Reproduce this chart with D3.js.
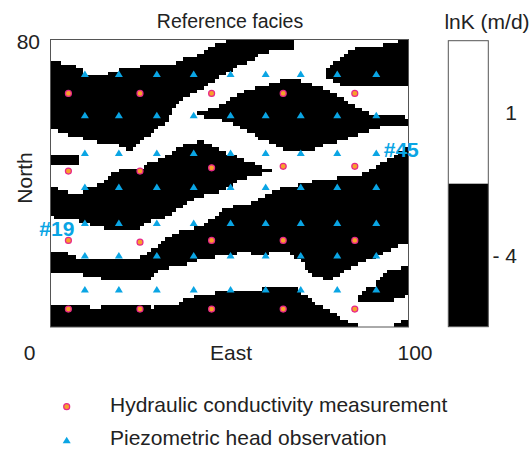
<!DOCTYPE html>
<html>
<head>
<meta charset="utf-8">
<script src="https://cdn.jsdelivr.net/npm/d3@7"></script>
<style>
  body { margin: 0; background: #fff; }
  svg { display: block; }
  text { font-family: "Liberation Sans", Arial, Helvetica, sans-serif; fill: #222; }
</style>
</head>
<body>
<svg id="chart" width="532" height="456"></svg>
<script>
// ---- facies field: 100 x 80 cells, sand (lnK = 1) background with shale (lnK = -4) bodies ----
const gridCols = 100;
const gridRows = 80;

// shale bodies, outlines in grid units (East, North)
const shaleUpperLeft = [[-0.5,74.6],[2.1,73.9],[4,73.2],[6.3,72.8],[8.1,71.9],[9.5,70.5],[10.9,70.2],[16,70.2],[16.5,71],[18.9,71.4],[21.6,71.9],[24,72.4],[26.3,72.8],[32.8,72.9],[35.1,73.7],[37.5,74.6],[41.2,75.6],[43,76.5],[44.9,77.9],[46.8,78.8],[49.1,79.5],[49.5,80.5],[67.7,80.5],[67.5,77.2],[64.5,76.9],[60.8,76.5],[58.9,75.8],[57,74.8],[55.2,73.7],[53.3,73],[50.5,71.4],[48.7,70.2],[45.9,68.6],[44,67.2],[42.1,65.8],[40.3,65.1],[38.4,64.4],[36.5,63],[34.7,61.2],[33.5,58.5],[31.9,56.6],[30,55.6],[28.2,53.8],[26.3,52.4],[24,50.5],[22.1,49.1],[21.2,49.1],[18.9,50.5],[16.1,51],[11.4,51.9],[5.8,53.3],[3,54.2],[-0.5,55]];
const shaleTopRight = [[76.6,70.6],[77.5,71.9],[80.3,74.2],[81.7,75.6],[83.1,76.5],[85.9,77.9],[88.7,78.4],[97,78.6],[97,80.5],[100.5,80.5],[100.5,67.2],[81.3,67.4],[79.4,68.1],[77,69.6]];
const shaleMidRight = [[40.5,59.2],[41.2,59.6],[43.1,59.8],[44.9,60.7],[46.8,61.6],[49.1,62.8],[51.4,64],[54.8,65.8],[59.4,67.2],[63.2,68.2],[66,68.9],[70.6,68.4],[73.4,67.5],[76.2,66.6],[79,65.2],[81.8,63.8],[84.6,61.6],[87.4,60.5],[89.6,59],[100.5,58.4],[100.5,56.2],[95.8,56.2],[91.1,55.4],[87.4,54],[84.6,53.1],[80.3,51.5],[76.2,50.5],[73.4,49.4],[68.8,48.5],[66,49.2],[63.5,50.5],[61,51.4],[58,52.6],[55.5,54.2],[52.5,56],[47.3,57.6],[43.1,58.4]];
const shaleLeftSliver = [[-0.5,48.1],[2.3,48.1],[2.3,47.7],[8.1,47.7],[8.1,45],[-0.5,45]];
const shaleMiddle = [[-0.5,38.7],[4.9,38.2],[5.4,37.3],[8.6,36.8],[9.1,37.8],[10.5,38.7],[12.3,39.2],[13.3,40],[15.5,40.5],[17,42.1],[17.9,43],[20.7,44],[25.4,44.4],[27.2,45.4],[29.1,46.3],[31,46.8],[33.5,48],[35.6,50],[38.4,51],[41.2,51.6],[44,51.4],[45.9,50],[48.7,48.7],[51.4,47.7],[54.2,46.3],[57,45.4],[59.8,44],[62.5,43.4],[64,43.6],[60,42.8],[56.6,42],[52.8,41],[51.4,40.1],[48.7,38.2],[45.9,37.3],[41.2,35.9],[38.4,35],[36.5,33.1],[34.7,32.2],[32.8,30.8],[30,30.1],[28.2,29.4],[26.3,28.5],[24.9,27.6],[24,26.6],[16.1,27.1],[11.4,28.5],[8.6,29.4],[4.9,30.3],[-0.5,30.6]];
const shaleLower = [[-0.5,21],[4.9,21],[5.4,19.7],[8.6,19.2],[14.7,18.7],[20.7,18.7],[23.5,19.2],[25.8,19.7],[27.2,20.6],[29.1,22],[31,23.9],[32.8,24.8],[34.7,26.2],[37.5,27.1],[42.1,28],[45,29.9],[47.7,32.2],[51.4,33.6],[56.1,34.5],[59.8,36.4],[62.6,38.2],[65.4,38.7],[67.5,39.2],[70,39.8],[74,40.8],[80,41.5],[87,42.5],[90,44],[95,47],[100.5,50.5],[100.5,23.5],[97.9,23.2],[97.1,22],[95.2,21.5],[93.3,20.6],[88.7,18.7],[86.8,17.8],[85,16.9],[83.1,16],[81.2,14.6],[79.4,14.1],[77.5,12.7],[76.6,13.2],[73.8,14.1],[71.9,15.5],[71,16.8],[70.1,18.2],[68.2,19.2],[66.3,21.1],[62.6,21.1],[59.8,20.1],[56.1,20.1],[55.2,21.1],[52.8,21.1],[51.4,20.1],[46.8,19.7],[42.1,18.7],[37.5,17.4],[32.8,16.4],[31,16],[29.1,14.6],[27.2,13.2],[16.1,13.2],[8.6,14.6],[-0.5,15]];
const shaleBottom = [[-0.5,6.2],[11.4,6.2],[11.4,5.3],[14.2,5.3],[14.2,5.9],[28.2,5.9],[28.2,5],[29.1,5],[29.1,5.9],[32.8,5.6],[37,6.7],[37.5,8.1],[42.1,9],[46.3,9.5],[56.1,9.7],[59.8,10.9],[63.1,10.9],[66.3,11.1],[69.1,10.4],[71.9,8.3],[73.8,6.7],[76.6,5.3],[79.4,3.9],[81.2,2.2],[84,1.2],[86.4,0.9],[86.4,-0.5],[-0.5,-0.5]];
const shaleRightLens = [[86.4,9.4],[87.8,10.4],[90.6,11.3],[92.4,14.1],[94.3,15.5],[97.1,16.4],[100.5,16.9],[100.5,9],[97.1,7.6],[92.4,7.1],[86.4,7.1]];
const shaleCorner = [[95.8,-0.5],[96.5,1],[98.5,1.8],[100.5,2],[100.5,-0.5]];

// piezometric head observation grid (numbered row by row from the south-west)
const headObsX = [9.6, 19.1, 29.7, 40, 50.3, 60.1, 69.9, 80.1, 91];
const headObsY = [10.5, 20, 29, 39, 48.5, 59, 70.5];
// highlighted observation wells
const wellLabels = ["#19", "#45"];
const wellNumbers = [19, 45];

// hydraulic conductivity measurements
const condX = [5, 25, 45, 65, 85, 5, 25, 45, 65, 85, 5, 25, 45, 65, 85, 5, 25, 45, 65, 85];
const condY = [5, 5, 5, 5, 5, 24.1, 23.6, 24.1, 24.1, 24.1, 43.4, 43.4, 44.3, 44.7, 44.7, 65, 65, 65, 65, 65];

// axis and colour bar text
const eastTicks = ["0", "100"];
const northTicks = ["80"];
const lnKClasses = ["1", "- 4"];
const lnKColours = ["#ffffff", "#000000"];
const legendLabels = ["Hydraulic conductivity measurement", "Piezometric head observation"];

// ---- layout ----
const svg = d3.select("#chart");
const plot = { left: 50.5, right: 408.5, top: 39.5, bottom: 327 };
const x = d3.scaleLinear().domain([0, gridCols]).range([plot.left, plot.right]);
const y = d3.scaleLinear().domain([0, gridRows]).range([plot.bottom, plot.top]);

const blue = "#0aa5e4";
const orange = "#f7a12a";
const magenta = "#e8268a";
const circleR = 3.0;

// ---- rasterise the shale bodies onto the grid, merged into runs per row ----
const shaleBodies = [shaleUpperLeft, shaleTopRight, shaleMidRight, shaleLeftSliver,
                     shaleMiddle, shaleLower, shaleBottom, shaleRightLens, shaleCorner];
const runs = [];
for (let j = 0; j < gridRows; j++) {
  let start = null;
  for (let i = 0; i <= gridCols; i++) {
    const centre = [i + 0.5, j + 0.5];
    const shale = i < gridCols && shaleBodies.some(p => d3.polygonContains(p, centre));
    if (shale && start === null) start = i;
    if (!shale && start !== null) { runs.push({ row: j, c0: start, c1: i }); start = null; }
  }
}

svg.append("rect")
  .attr("x", x(0)).attr("y", y(gridRows))
  .attr("width", x(gridCols) - x(0)).attr("height", y(0) - y(gridRows))
  .attr("fill", lnKColours[0]);

svg.append("g").attr("shape-rendering", "crispEdges")
  .selectAll("rect").data(runs).join("rect")
  .attr("x", d => x(d.c0))
  .attr("width", d => x(d.c1) - x(d.c0))
  .attr("y", d => y(d.row + 1))
  .attr("height", d => y(d.row) - y(d.row + 1))
  .attr("fill", lnKColours[1]);

svg.append("rect")
  .attr("x", x(0)).attr("y", y(gridRows))
  .attr("width", x(gridCols) - x(0)).attr("height", y(0) - y(gridRows))
  .attr("fill", "none").attr("stroke", "#555").attr("stroke-width", 1);

// ---- observation points ----
const triPath = (w, h) => `M0,${-h / 2}L${w / 2},${h / 2}L${-w / 2},${h / 2}Z`;
const heads = [];
headObsY.forEach((yy, r) => headObsX.forEach((xx, c) => heads.push({ n: r * headObsX.length + c + 1, x: xx, y: yy })));

svg.append("g").selectAll("path").data(heads).join("path")
  .attr("d", triPath(8, 6.5))
  .attr("transform", d => `translate(${x(d.x)},${y(d.y)})`)
  .attr("fill", blue);

svg.append("g").selectAll("circle").data(condX.map((v, i) => ({ x: v, y: condY[i] }))).join("circle")
  .attr("cx", d => x(d.x)).attr("cy", d => y(d.y)).attr("r", circleR)
  .attr("fill", orange).attr("stroke", magenta).attr("stroke-width", 1.2);

// well labels: #19 sits west of its well, #45 east of its well
const wellOffsets = [[-28, 13], [25, 4]];
wellNumbers.forEach((n, k) => {
  const w = heads.find(h => h.n === n);
  svg.append("text")
    .attr("x", x(w.x) + wellOffsets[k][0]).attr("y", y(w.y) + wellOffsets[k][1])
    .attr("text-anchor", "middle")
    .style("font-size", "21px").style("font-weight", "bold").style("fill", blue)
    .text(wellLabels[k]);
});

// ---- titles and axis text ----
svg.append("text").attr("x", 230).attr("y", 28).attr("text-anchor", "middle")
  .style("font-size", "19.5px").text("Reference facies");

svg.append("text").attr("x", 29.5).attr("y", 360).attr("text-anchor", "middle")
  .style("font-size", "21px").text(eastTicks[0]);
svg.append("text").attr("x", 415).attr("y", 360).attr("text-anchor", "middle")
  .style("font-size", "21px").text(eastTicks[1]);
svg.append("text").attr("x", 231).attr("y", 360).attr("text-anchor", "middle")
  .style("font-size", "21px").text("East");

svg.append("text").attr("x", 40).attr("y", 49).attr("text-anchor", "end")
  .style("font-size", "21px").text(northTicks[0]);
svg.append("text").attr("transform", "translate(32,178) rotate(-90)").attr("text-anchor", "middle")
  .style("font-size", "21px").text("North");

// ---- colour bar ----
const cb = { left: 448.3, right: 488.3, top: 40.7, bottom: 326.7 };
const cbBand = d3.scaleBand().domain(lnKClasses).range([cb.top, cb.bottom]);
svg.append("g").selectAll("rect").data(lnKClasses).join("rect")
  .attr("x", cb.left).attr("width", cb.right - cb.left)
  .attr("y", d => cbBand(d)).attr("height", cbBand.bandwidth())
  .attr("fill", (d, i) => lnKColours[i]);
svg.append("rect").attr("x", cb.left).attr("y", cb.top)
  .attr("width", cb.right - cb.left).attr("height", cb.bottom - cb.top)
  .attr("fill", "none").attr("stroke", "#555").attr("stroke-width", 1);
svg.append("g").selectAll("text").data(lnKClasses).join("text")
  .attr("x", 517).attr("y", d => cbBand(d) + cbBand.bandwidth() / 2 + 7.5)
  .attr("text-anchor", "end").style("font-size", "21px").text(d => d);
svg.append("text").attr("x", 487).attr("y", 29).attr("text-anchor", "middle")
  .style("font-size", "21px").text("lnK (m/d)");

// ---- legend ----
const lg = svg.append("g");
lg.append("circle").attr("cx", 66.7).attr("cy", 406.7).attr("r", circleR)
  .attr("fill", orange).attr("stroke", magenta).attr("stroke-width", 1.2);
lg.append("path").attr("d", triPath(8, 6.5)).attr("transform", "translate(66.7,440)").attr("fill", blue);
lg.selectAll("text.lbl").data(legendLabels).join("text").attr("class", "lbl")
  .attr("x", 110).attr("y", (d, i) => 411.7 + i * 33.3)
  .style("font-size", "21px").text(d => d);
</script>
</body>
</html>
